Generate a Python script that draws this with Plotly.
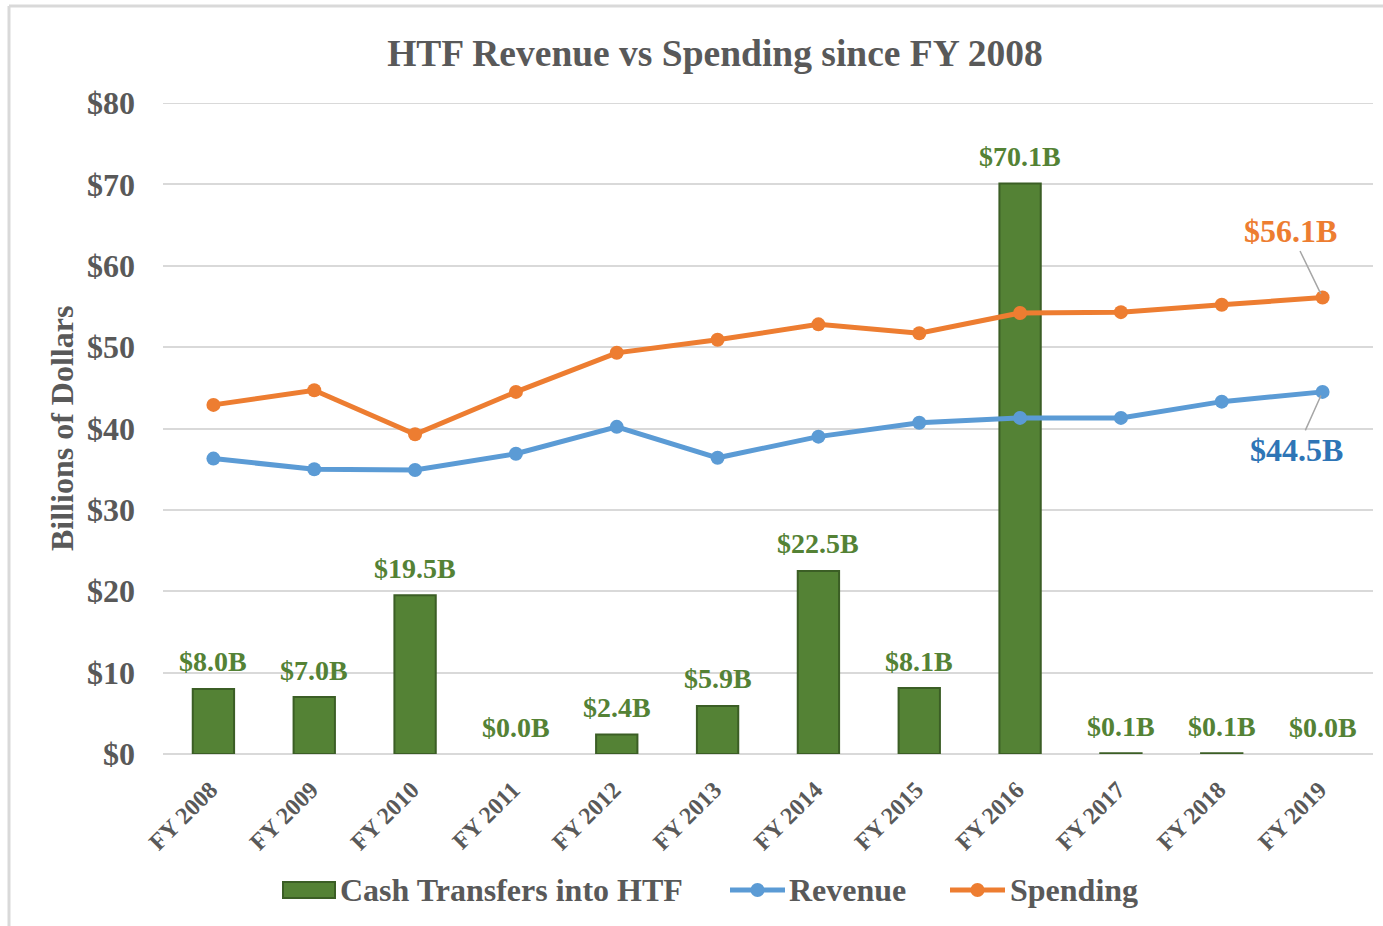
import plotly.graph_objects as go

categories = ["FY 2008", "FY 2009", "FY 2010", "FY 2011", "FY 2012", "FY 2013",
              "FY 2014", "FY 2015", "FY 2016", "FY 2017", "FY 2018", "FY 2019"]
cash_transfers = [8.0, 7.0, 19.5, 0.0, 2.4, 5.9, 22.5, 8.1, 70.1, 0.1, 0.1, 0.0]
revenue = [36.3, 35.0, 34.9, 36.9, 40.2, 36.4, 39.0, 40.7, 41.3, 41.3, 43.3, 44.5]
spending = [42.9, 44.7, 39.3, 44.5, 49.3, 50.9, 52.8, 51.7, 54.2, 54.3, 55.2, 56.1]
y_ticks = [0, 10, 20, 30, 40, 50, 60, 70, 80]
series_names = ["Cash Transfers into HTF", "Revenue", "Spending"]

FONT = "Liberation Serif, Times New Roman, serif"
GRAY = "#595959"
GREEN = "#548235"
GREEN_EDGE = "#3b5e25"
BLUE = "#5b9bd5"
ORANGE = "#ed7d31"
GRID = "#d9d9d9"

W, H = 1383, 926
L, R, T, B = 163, 10, 103, 172
pw, ph = W - L - R, H - T - B

def px_x(p):
    return (p - L) / pw

def px_y(p):
    return (H - B - p) / ph

fig = go.Figure()
fig.add_trace(go.Bar(
    x=categories, y=cash_transfers, name=series_names[0], showlegend=False,
    marker=dict(color=GREEN,
                line=dict(color=GREEN_EDGE, width=[2 if v > 0 else 0 for v in cash_transfers])),
    width=0.41,
))
fig.add_trace(go.Scatter(
    x=categories, y=revenue, name=series_names[1], mode="lines+markers", showlegend=False,
    line=dict(color=BLUE, width=5), marker=dict(size=14, color=BLUE),
))
fig.add_trace(go.Scatter(
    x=categories, y=spending, name=series_names[2], mode="lines+markers", showlegend=False,
    line=dict(color=ORANGE, width=5), marker=dict(size=14, color=ORANGE),
))

annotations = []
for c, v in zip(categories, cash_transfers):
    annotations.append(dict(
        x=c, y=v, xref="x", yref="y", text=f"${v:.1f}B", showarrow=False,
        yanchor="middle", yshift=27,
        font=dict(family=FONT, size=28, color=GREEN, weight="bold"),
    ))

annotations.append(dict(
    x=categories[-1], y=spending[-1], xref="x", yref="y",
    text=f"${spending[-1]:.1f}B", showarrow=True, arrowhead=0, arrowwidth=1.5,
    arrowcolor="#a6a6a6", ax=-32, ay=-66, standoff=4,
    font=dict(family=FONT, size=32, color=ORANGE, weight="bold"),
))
annotations.append(dict(
    x=categories[-1], y=revenue[-1], xref="x", yref="y",
    text=f"${revenue[-1]:.1f}B", showarrow=True, arrowhead=0, arrowwidth=1.5,
    arrowcolor="#a6a6a6", ax=-26, ay=58, standoff=4,
    font=dict(family=FONT, size=32, color="#2e75b6", weight="bold"),
))
annotations.append(dict(
    x=px_x(62), y=px_y(429), xref="paper", yref="paper",
    text="Billions of Dollars", textangle=-90, showarrow=False,
    xanchor="center", yanchor="middle",
    font=dict(family=FONT, size=32, color=GRAY, weight="bold"),
))

# chart frame and top gridline
shapes = [
    dict(type="line", xref="paper", yref="paper", x0=px_x(9), x1=px_x(9),
         y0=px_y(6), y1=px_y(930), line=dict(color=GRID, width=3)),
    dict(type="line", xref="paper", yref="paper", x0=px_x(9), x1=px_x(1390),
         y0=px_y(6), y1=px_y(6), line=dict(color=GRID, width=3)),
    dict(type="line", xref="paper", yref="y", x0=0, x1=1,
         y0=y_ticks[-1], y1=y_ticks[-1], line=dict(color=GRID, width=2), layer="below"),
]

# legend (drawn manually to match the wide swatches)
LEG_Y = 890
shapes.append(dict(type="rect", xref="paper", yref="paper",
                   x0=px_x(283), x1=px_x(335), y0=px_y(898), y1=px_y(882),
                   fillcolor=GREEN, line=dict(color=GREEN_EDGE, width=2)))
for (x0, x1), col in [((730, 785), BLUE), ((950, 1005), ORANGE)]:
    shapes.append(dict(type="line", xref="paper", yref="paper",
                       x0=px_x(x0), x1=px_x(x1), y0=px_y(LEG_Y), y1=px_y(LEG_Y),
                       line=dict(color=col, width=5)))
    cx = (x0 + x1) / 2
    shapes.append(dict(type="circle", xref="paper", yref="paper",
                       x0=px_x(cx - 7), x1=px_x(cx + 7), y0=px_y(LEG_Y + 7), y1=px_y(LEG_Y - 7),
                       fillcolor=col, line=dict(color=col, width=0)))
for name, tx in zip(series_names, [338, 787, 1008]):
    annotations.append(dict(
        x=px_x(tx), y=px_y(LEG_Y), xref="paper", yref="paper", text=name,
        showarrow=False, xanchor="left", yanchor="middle",
        font=dict(family=FONT, size=32, color=GRAY, weight="bold"),
    ))

fig.update_layout(
    width=W, height=H,
    margin=dict(l=L, r=R, t=T, b=B, autoexpand=False),
    paper_bgcolor="white", plot_bgcolor="white",
    font=dict(family=FONT, color=GRAY),
    showlegend=False,
    title=dict(
        text="<b>HTF Revenue vs Spending since FY 2008</b>",
        x=715 / W, xanchor="center", y=1 - 53 / H, yanchor="middle",
        font=dict(family=FONT, size=37.5, color=GRAY),
    ),
    xaxis=dict(
        type="category", range=[-0.5, 11.5], tickangle=-45, showgrid=False, showline=False,
        ticks="", ticklabelstandoff=16, ticklabelshift=-3,
        tickfont=dict(family=FONT, size=24, color=GRAY, weight="bold"),
    ),
    yaxis=dict(
        range=[0, 80], tickvals=y_ticks, ticktext=[f"${v}" for v in y_ticks],
        showgrid=True, gridcolor=GRID, gridwidth=2,
        zeroline=True, zerolinecolor=GRID, zerolinewidth=2,
        ticks="", ticklabelstandoff=27,
        tickfont=dict(family=FONT, size=32, color=GRAY, weight="bold"),
    ),
    annotations=annotations,
    shapes=shapes,
)

fig.write_html(
    "out.html",
    config={"displayModeBar": False},
    post_script="document.body.style.margin='0';document.body.style.overflow='hidden';",
)
